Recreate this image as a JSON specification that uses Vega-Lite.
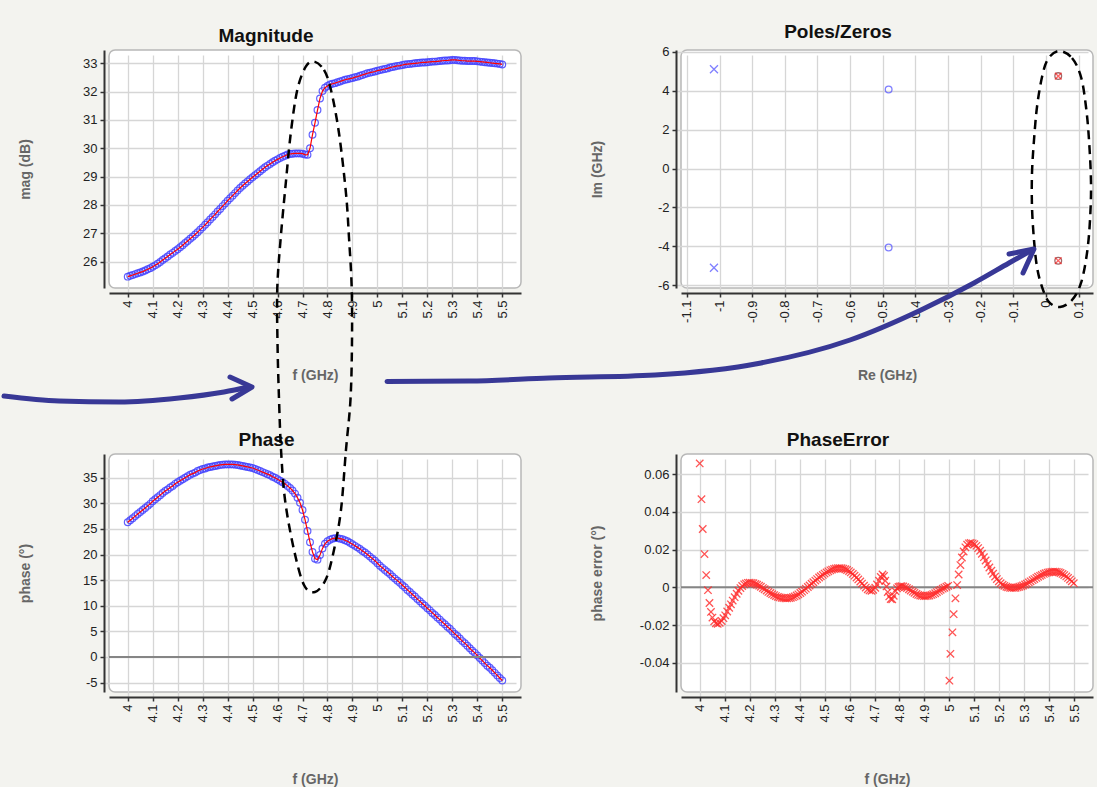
{
  "$schema": "https://vega.github.io/schema/vega-lite/v6.json",
  "background": "#f3f3ef",
  "padding": {"left": 0, "top": 21, "right": 0, "bottom": 0},
  "bounds": "flush",
  "columns": 2,
  "spacing": {"row": 166, "column": 160},
  "config": {
    "font": "Liberation Sans",
    "view": {"stroke": "#b8b8b8", "strokeWidth": 1.5, "cornerRadius": 6, "fill": "#ffffff"},
    "axis": {
      "labelFont": "Liberation Sans", "labelFontSize": 13, "labelColor": "#222222",
      "titleFont": "Liberation Sans", "titleFontSize": 14, "titleFontWeight": "bold", "titleColor": "#666666",
      "domainColor": "#333333", "domainWidth": 2, "tickColor": "#333333", "tickSize": 4, "tickWidth": 1.5,
      "gridColor": "#d6d6d6", "gridWidth": 1.3, "offset": 5, "labelPadding": 3
    },
    "title": {"font": "Liberation Sans", "fontSize": 19, "fontWeight": "bold", "color": "#111111", "baseline": "alphabetic", "offset": 4}
  },
  "datasets": {
    "fp": [
      {"f":4.00,"m":25.47,"p":26.3},{"f":4.01,"m":25.50,"p":26.7},{"f":4.02,"m":25.53,"p":27.1},{"f":4.03,"m":25.56,"p":27.5},{"f":4.04,"m":25.59,"p":27.9},
      {"f":4.05,"m":25.62,"p":28.3},{"f":4.06,"m":25.65,"p":28.7},{"f":4.07,"m":25.69,"p":29.1},{"f":4.08,"m":25.73,"p":29.5},{"f":4.09,"m":25.77,"p":29.9},
      {"f":4.10,"m":25.82,"p":30.4},{"f":4.11,"m":25.87,"p":30.8},{"f":4.12,"m":25.93,"p":31.2},{"f":4.13,"m":25.99,"p":31.6},{"f":4.14,"m":26.06,"p":32.0},
      {"f":4.15,"m":26.12,"p":32.4},{"f":4.16,"m":26.18,"p":32.7},{"f":4.17,"m":26.25,"p":33.1},{"f":4.18,"m":26.31,"p":33.4},{"f":4.19,"m":26.38,"p":33.8},
      {"f":4.20,"m":26.44,"p":34.1},{"f":4.21,"m":26.51,"p":34.4},{"f":4.22,"m":26.58,"p":34.7},{"f":4.23,"m":26.66,"p":35.0},{"f":4.24,"m":26.73,"p":35.3},
      {"f":4.25,"m":26.81,"p":35.6},{"f":4.26,"m":26.88,"p":35.8},{"f":4.27,"m":26.96,"p":36.0},{"f":4.28,"m":27.04,"p":36.3},{"f":4.29,"m":27.13,"p":36.5},
      {"f":4.30,"m":27.21,"p":36.7},{"f":4.31,"m":27.30,"p":36.8},{"f":4.32,"m":27.39,"p":37.0},{"f":4.33,"m":27.49,"p":37.1},{"f":4.34,"m":27.58,"p":37.2},
      {"f":4.35,"m":27.67,"p":37.3},{"f":4.36,"m":27.77,"p":37.4},{"f":4.37,"m":27.86,"p":37.5},{"f":4.38,"m":27.96,"p":37.55},{"f":4.39,"m":28.05,"p":37.6},
      {"f":4.40,"m":28.15,"p":37.6},{"f":4.41,"m":28.24,"p":37.6},{"f":4.42,"m":28.33,"p":37.6},{"f":4.43,"m":28.42,"p":37.55},{"f":4.44,"m":28.51,"p":37.5},
      {"f":4.45,"m":28.60,"p":37.4},{"f":4.46,"m":28.68,"p":37.3},{"f":4.47,"m":28.76,"p":37.2},{"f":4.48,"m":28.83,"p":37.1},{"f":4.49,"m":28.91,"p":37.0},
      {"f":4.50,"m":28.98,"p":36.9},{"f":4.51,"m":29.05,"p":36.7},{"f":4.52,"m":29.12,"p":36.5},{"f":4.53,"m":29.19,"p":36.3},{"f":4.54,"m":29.26,"p":36.1},
      {"f":4.55,"m":29.33,"p":35.9},{"f":4.56,"m":29.39,"p":35.7},{"f":4.57,"m":29.45,"p":35.5},{"f":4.58,"m":29.51,"p":35.2},{"f":4.59,"m":29.56,"p":35.0},
      {"f":4.60,"m":29.61,"p":34.7},{"f":4.61,"m":29.66,"p":34.4},{"f":4.62,"m":29.70,"p":34.1},{"f":4.63,"m":29.74,"p":33.8},{"f":4.64,"m":29.78,"p":33.4},
      {"f":4.65,"m":29.80,"p":33.0},{"f":4.66,"m":29.81,"p":32.5},{"f":4.67,"m":29.82,"p":31.9},{"f":4.68,"m":29.82,"p":31.1},{"f":4.69,"m":29.82,"p":30.1},
      {"f":4.70,"m":29.81,"p":28.7},{"f":4.71,"m":29.78,"p":26.8},{"f":4.72,"m":29.77,"p":24.6},{"f":4.73,"m":30.00,"p":22.4},{"f":4.74,"m":30.48,"p":20.5},
      {"f":4.75,"m":30.90,"p":19.2},{"f":4.76,"m":31.35,"p":19.0},{"f":4.77,"m":31.76,"p":19.9},{"f":4.78,"m":32.02,"p":21.2},{"f":4.79,"m":32.14,"p":22.1},
      {"f":4.80,"m":32.20,"p":22.6},{"f":4.81,"m":32.25,"p":22.9},{"f":4.82,"m":32.28,"p":23.1},{"f":4.83,"m":32.30,"p":23.2},{"f":4.84,"m":32.33,"p":23.2},
      {"f":4.85,"m":32.36,"p":23.1},{"f":4.86,"m":32.39,"p":23.0},{"f":4.87,"m":32.42,"p":22.8},{"f":4.88,"m":32.44,"p":22.6},{"f":4.89,"m":32.46,"p":22.3},
      {"f":4.90,"m":32.48,"p":22.0},{"f":4.91,"m":32.51,"p":21.7},{"f":4.92,"m":32.53,"p":21.4},{"f":4.93,"m":32.56,"p":21.1},{"f":4.94,"m":32.59,"p":20.7},
      {"f":4.95,"m":32.62,"p":20.4},{"f":4.96,"m":32.65,"p":20.0},{"f":4.97,"m":32.67,"p":19.6},{"f":4.98,"m":32.69,"p":19.2},{"f":4.99,"m":32.71,"p":18.8},
      {"f":5.00,"m":32.74,"p":18.3},{"f":5.01,"m":32.76,"p":17.8},{"f":5.02,"m":32.78,"p":17.4},{"f":5.03,"m":32.80,"p":17.0},{"f":5.04,"m":32.82,"p":16.6},
      {"f":5.05,"m":32.85,"p":16.2},{"f":5.06,"m":32.87,"p":15.7},{"f":5.07,"m":32.89,"p":15.3},{"f":5.08,"m":32.91,"p":14.9},{"f":5.09,"m":32.92,"p":14.5},
      {"f":5.10,"m":32.94,"p":14.0},{"f":5.11,"m":32.96,"p":13.6},{"f":5.12,"m":32.97,"p":13.1},{"f":5.13,"m":32.98,"p":12.7},{"f":5.14,"m":32.99,"p":12.2},
      {"f":5.15,"m":33.00,"p":11.8},{"f":5.16,"m":33.01,"p":11.3},{"f":5.17,"m":33.02,"p":10.9},{"f":5.18,"m":33.03,"p":10.4},{"f":5.19,"m":33.03,"p":10.0},
      {"f":5.20,"m":33.04,"p":9.5},{"f":5.21,"m":33.05,"p":9.1},{"f":5.22,"m":33.06,"p":8.6},{"f":5.23,"m":33.06,"p":8.2},{"f":5.24,"m":33.07,"p":7.7},
      {"f":5.25,"m":33.08,"p":7.3},{"f":5.26,"m":33.09,"p":6.8},{"f":5.27,"m":33.10,"p":6.4},{"f":5.28,"m":33.10,"p":5.9},{"f":5.29,"m":33.11,"p":5.5},
      {"f":5.30,"m":33.12,"p":5.0},{"f":5.31,"m":33.12,"p":4.5},{"f":5.32,"m":33.11,"p":4.1},{"f":5.33,"m":33.10,"p":3.6},{"f":5.34,"m":33.09,"p":3.1},
      {"f":5.35,"m":33.09,"p":2.7},{"f":5.36,"m":33.08,"p":2.2},{"f":5.37,"m":33.08,"p":1.7},{"f":5.38,"m":33.08,"p":1.2},{"f":5.39,"m":33.08,"p":0.8},
      {"f":5.40,"m":33.07,"p":0.3},{"f":5.41,"m":33.06,"p":-0.2},{"f":5.42,"m":33.05,"p":-0.7},{"f":5.43,"m":33.04,"p":-1.2},{"f":5.44,"m":33.03,"p":-1.7},
      {"f":5.45,"m":33.02,"p":-2.1},{"f":5.46,"m":33.01,"p":-2.6},{"f":5.47,"m":33.00,"p":-3.1},{"f":5.48,"m":32.99,"p":-3.6},{"f":5.49,"m":32.98,"p":-4.1},
      {"f":5.50,"m":32.96,"p":-4.6}
    ],
    "pe": [
      {"f":4.000,"e":0.0656},{"f":4.007,"e":0.0467},{"f":4.012,"e":0.0309},{"f":4.019,"e":0.0176},{"f":4.026,"e":0.0065},
      {"f":4.033,"e":-0.0015},{"f":4.039,"e":-0.0083},{"f":4.045,"e":-0.0130},{"f":4.051,"e":-0.0160},{"f":4.058,"e":-0.0180},
      {"f":4.065,"e":-0.0190},{"f":4.072,"e":-0.0193},{"f":4.080,"e":-0.0188},{"f":4.088,"e":-0.0178},{"f":4.095,"e":-0.0163},
      {"f":4.102,"e":-0.0148},{"f":4.110,"e":-0.0128},{"f":4.118,"e":-0.0108},{"f":4.125,"e":-0.0090},{"f":4.132,"e":-0.0070},
      {"f":4.140,"e":-0.0052},{"f":4.148,"e":-0.0034},{"f":4.155,"e":-0.0018},{"f":4.163,"e":-0.0004},{"f":4.170,"e":0.0007},
      {"f":4.178,"e":0.0016},{"f":4.185,"e":0.0021},{"f":4.193,"e":0.0024},{"f":4.200,"e":0.0025},{"f":4.208,"e":0.0024},
      {"f":4.215,"e":0.0022},{"f":4.223,"e":0.0018},{"f":4.230,"e":0.0014},{"f":4.238,"e":0.0009},{"f":4.245,"e":0.0003},
      {"f":4.253,"e":-0.0004},{"f":4.260,"e":-0.0010},{"f":4.268,"e":-0.0017},{"f":4.275,"e":-0.0024},{"f":4.283,"e":-0.0030},
      {"f":4.290,"e":-0.0036},{"f":4.298,"e":-0.0041},{"f":4.305,"e":-0.0046},{"f":4.313,"e":-0.0050},{"f":4.320,"e":-0.0053},
      {"f":4.328,"e":-0.0055},{"f":4.335,"e":-0.0057},{"f":4.343,"e":-0.0058},{"f":4.350,"e":-0.0058},{"f":4.358,"e":-0.0057},
      {"f":4.365,"e":-0.0055},{"f":4.373,"e":-0.0052},{"f":4.380,"e":-0.0048},{"f":4.388,"e":-0.0043},{"f":4.395,"e":-0.0037},
      {"f":4.403,"e":-0.0030},{"f":4.410,"e":-0.0023},{"f":4.418,"e":-0.0015},{"f":4.425,"e":-0.0007},{"f":4.433,"e":0.0002},
      {"f":4.440,"e":0.0010},{"f":4.448,"e":0.0019},{"f":4.455,"e":0.0027},{"f":4.463,"e":0.0036},{"f":4.470,"e":0.0044},
      {"f":4.478,"e":0.0052},{"f":4.485,"e":0.0059},{"f":4.493,"e":0.0066},{"f":4.500,"e":0.0073},{"f":4.508,"e":0.0079},
      {"f":4.515,"e":0.0085},{"f":4.523,"e":0.0090},{"f":4.530,"e":0.0094},{"f":4.538,"e":0.0097},{"f":4.545,"e":0.0100},
      {"f":4.553,"e":0.0101},{"f":4.560,"e":0.0102},{"f":4.568,"e":0.0101},{"f":4.575,"e":0.0099},{"f":4.583,"e":0.0096},
      {"f":4.590,"e":0.0092},{"f":4.598,"e":0.0086},{"f":4.605,"e":0.0079},{"f":4.613,"e":0.0071},{"f":4.620,"e":0.0062},
      {"f":4.628,"e":0.0052},{"f":4.635,"e":0.0042},{"f":4.643,"e":0.0031},{"f":4.650,"e":0.0020},{"f":4.658,"e":0.0009},
      {"f":4.665,"e":-0.0001},{"f":4.673,"e":-0.0010},{"f":4.680,"e":-0.0016},{"f":4.688,"e":-0.0018},{"f":4.695,"e":-0.0013},
      {"f":4.703,"e":-0.0002},{"f":4.710,"e":0.0015},{"f":4.718,"e":0.0035},{"f":4.725,"e":0.0055},{"f":4.732,"e":0.0068},
      {"f":4.738,"e":0.0060},{"f":4.743,"e":0.0035},{"f":4.748,"e":0.0005},{"f":4.753,"e":-0.0025},{"f":4.759,"e":-0.0048},
      {"f":4.765,"e":-0.0062},{"f":4.771,"e":-0.0063},{"f":4.777,"e":-0.0045},{"f":4.784,"e":-0.0020},{"f":4.790,"e":-0.0005},
      {"f":4.796,"e":0.0002},{"f":4.802,"e":0.0005},{"f":4.808,"e":0.0006},{"f":4.815,"e":0.0005},{"f":4.823,"e":0.0001},
      {"f":4.830,"e":-0.0004},{"f":4.838,"e":-0.0010},{"f":4.845,"e":-0.0017},{"f":4.853,"e":-0.0023},{"f":4.860,"e":-0.0029},
      {"f":4.868,"e":-0.0035},{"f":4.875,"e":-0.0040},{"f":4.883,"e":-0.0043},{"f":4.890,"e":-0.0045},{"f":4.898,"e":-0.0046},
      {"f":4.905,"e":-0.0046},{"f":4.913,"e":-0.0045},{"f":4.920,"e":-0.0043},{"f":4.928,"e":-0.0040},{"f":4.935,"e":-0.0036},
      {"f":4.943,"e":-0.0031},{"f":4.950,"e":-0.0025},{"f":4.958,"e":-0.0019},{"f":4.965,"e":-0.0013},{"f":4.973,"e":-0.0007},
      {"f":4.980,"e":-0.0002},{"f":4.988,"e":0.0003},{"f":4.995,"e":0.0008},
      {"f":5.000,"e":-0.0494},{"f":5.004,"e":-0.0352},{"f":5.012,"e":-0.0238},{"f":5.017,"e":-0.0142},{"f":5.024,"e":-0.0058},
      {"f":5.031,"e":0.0012},{"f":5.037,"e":0.0068},{"f":5.044,"e":0.0118},{"f":5.050,"e":0.0158},{"f":5.057,"e":0.0190},
      {"f":5.064,"e":0.0212},{"f":5.071,"e":0.0226},{"f":5.078,"e":0.0233},{"f":5.085,"e":0.0235},{"f":5.093,"e":0.0233},
      {"f":5.100,"e":0.0228},{"f":5.108,"e":0.0220},{"f":5.115,"e":0.0208},{"f":5.123,"e":0.0194},{"f":5.130,"e":0.0178},
      {"f":5.138,"e":0.0160},{"f":5.145,"e":0.0142},{"f":5.153,"e":0.0123},{"f":5.160,"e":0.0105},{"f":5.168,"e":0.0088},
      {"f":5.175,"e":0.0072},{"f":5.183,"e":0.0057},{"f":5.190,"e":0.0044},{"f":5.198,"e":0.0032},{"f":5.205,"e":0.0022},
      {"f":5.213,"e":0.0014},{"f":5.220,"e":0.0008},{"f":5.228,"e":0.0003},{"f":5.235,"e":0.0000},{"f":5.243,"e":-0.0002},
      {"f":5.250,"e":-0.0003},{"f":5.258,"e":-0.0003},{"f":5.265,"e":-0.0002},{"f":5.273,"e":0.0000},{"f":5.280,"e":0.0003},
      {"f":5.288,"e":0.0006},{"f":5.295,"e":0.0010},{"f":5.303,"e":0.0015},{"f":5.310,"e":0.0020},{"f":5.318,"e":0.0026},
      {"f":5.325,"e":0.0032},{"f":5.333,"e":0.0038},{"f":5.340,"e":0.0044},{"f":5.348,"e":0.0050},{"f":5.355,"e":0.0056},
      {"f":5.363,"e":0.0061},{"f":5.370,"e":0.0066},{"f":5.378,"e":0.0071},{"f":5.385,"e":0.0075},{"f":5.393,"e":0.0078},
      {"f":5.400,"e":0.0080},{"f":5.408,"e":0.0082},{"f":5.415,"e":0.0083},{"f":5.423,"e":0.0083},{"f":5.430,"e":0.0082},
      {"f":5.438,"e":0.0080},{"f":5.445,"e":0.0076},{"f":5.453,"e":0.0071},{"f":5.460,"e":0.0065},{"f":5.468,"e":0.0058},
      {"f":5.475,"e":0.0050},{"f":5.483,"e":0.0041},{"f":5.490,"e":0.0032},{"f":5.498,"e":0.0022}
    ],
    "pz": [
      {"re":-1.017,"im":5.09,"k":"p"},{"re":-1.017,"im":-5.09,"k":"p"},
      {"re":-0.482,"im":4.05,"k":"z"},{"re":-0.482,"im":-4.05,"k":"z"},
      {"re":0.0375,"im":4.74,"k":"r"},{"re":0.0375,"im":-4.73,"k":"r"}
    ],
    "ann": [
      {"g":"ell","id":"e1","o":1,"f":4.746,"p":116.27},{"g":"ell","id":"e1","o":2,"f":4.786,"p":114.61},
      {"g":"ell","id":"e1","o":3,"f":4.814,"p":110.70},{"g":"ell","id":"e1","o":4,"f":4.846,"p":102.30},
      {"g":"ell","id":"e1","o":5,"f":4.874,"p":90.59},{"g":"ell","id":"e1","o":6,"f":4.886,"p":82.00},
      {"g":"ell","id":"e1","o":7,"f":4.897,"p":72.04},{"g":"ell","id":"e1","o":8,"f":4.898,"p":60.91},
      {"g":"ell","id":"e1","o":9,"f":4.892,"p":50.17},{"g":"ell","id":"e1","o":10,"f":4.874,"p":40.41},
      {"g":"ell","id":"e1","o":11,"f":4.854,"p":28.70},{"g":"ell","id":"e1","o":12,"f":4.826,"p":20.89},
      {"g":"ell","id":"e1","o":13,"f":4.794,"p":15.22},{"g":"ell","id":"e1","o":14,"f":4.750,"p":12.69},
      {"g":"ell","id":"e1","o":15,"f":4.706,"p":14.05},{"g":"ell","id":"e1","o":16,"f":4.666,"p":20.89},
      {"g":"ell","id":"e1","o":17,"f":4.630,"p":30.65},{"g":"ell","id":"e1","o":18,"f":4.614,"p":40.41},
      {"g":"ell","id":"e1","o":19,"f":4.606,"p":50.17},{"g":"ell","id":"e1","o":20,"f":4.600,"p":60.91},
      {"g":"ell","id":"e1","o":21,"f":4.599,"p":72.04},{"g":"ell","id":"e1","o":22,"f":4.613,"p":82.00},
      {"g":"ell","id":"e1","o":23,"f":4.633,"p":92.54},{"g":"ell","id":"e1","o":24,"f":4.653,"p":102.30},
      {"g":"ell","id":"e1","o":25,"f":4.679,"p":110.70},{"g":"ell","id":"e1","o":26,"f":4.713,"p":115.25},
      {"g":"ell","id":"e2","o":1,"f":7.7297,"p":118.32},{"g":"ell","id":"e2","o":2,"f":7.7817,"p":116.95},
      {"g":"ell","id":"e2","o":3,"f":7.8178,"p":113.24},{"g":"ell","id":"e2","o":4,"f":7.8378,"p":107.38},
      {"g":"ell","id":"e2","o":5,"f":7.8498,"p":100.94},{"g":"ell","id":"e2","o":6,"f":7.8578,"p":92.54},
      {"g":"ell","id":"e2","o":7,"f":7.8538,"p":85.32},{"g":"ell","id":"e2","o":8,"f":7.8418,"p":78.87},
      {"g":"ell","id":"e2","o":9,"f":7.8178,"p":73.02},{"g":"ell","id":"e2","o":10,"f":7.7817,"p":69.70},
      {"g":"ell","id":"e2","o":11,"f":7.7337,"p":68.33},{"g":"ell","id":"e2","o":12,"f":7.6896,"p":69.31},
      {"g":"ell","id":"e2","o":13,"f":7.6616,"p":72.24},{"g":"ell","id":"e2","o":14,"f":7.6415,"p":76.14},
      {"g":"ell","id":"e2","o":15,"f":7.6295,"p":81.41},{"g":"ell","id":"e2","o":16,"f":7.6215,"p":87.86},
      {"g":"ell","id":"e2","o":17,"f":7.6215,"p":94.49},{"g":"ell","id":"e2","o":18,"f":7.6295,"p":100.94},
      {"g":"ell","id":"e2","o":19,"f":7.6415,"p":107.38},{"g":"ell","id":"e2","o":20,"f":7.6616,"p":113.24},
      {"g":"ell","id":"e2","o":21,"f":7.6856,"p":116.75},
      {"g":"shaft","id":"a1","o":1,"f":3.5045,"p":50.95},{"g":"shaft","id":"a1","o":2,"f":3.7248,"p":49.98},
      {"g":"shaft","id":"a1","o":3,"f":3.9650,"p":49.78},{"g":"shaft","id":"a1","o":4,"f":4.2053,"p":50.56},
      {"g":"shaft","id":"a1","o":5,"f":4.3856,"p":51.74},{"g":"shaft","id":"a1","o":6,"f":4.4857,"p":52.71},
      {"g":"shaft","id":"a2","o":1,"f":5.0384,"p":53.79},{"g":"shaft","id":"a2","o":2,"f":5.3668,"p":53.88},
      {"g":"shaft","id":"a2","o":3,"f":5.6872,"p":54.47},{"g":"shaft","id":"a2","o":4,"f":6.1117,"p":55.06},
      {"g":"shaft","id":"a2","o":5,"f":6.5362,"p":57.40},{"g":"shaft","id":"a2","o":6,"f":6.8926,"p":61.89},
      {"g":"shaft","id":"a2","o":7,"f":7.1770,"p":67.75},{"g":"shaft","id":"a2","o":8,"f":7.3892,"p":73.02},
      {"g":"shaft","id":"a2","o":9,"f":7.5294,"p":76.92},{"g":"shaft","id":"a2","o":10,"f":7.6215,"p":79.46},
      {"g":"head","id":"h1","o":1,"f":4.4096,"p":54.66},{"g":"head","id":"h1","o":2,"f":4.4977,"p":52.71},
      {"g":"head","id":"h1","o":3,"f":4.4176,"p":50.37},
      {"g":"head","id":"h2","o":1,"f":7.5294,"p":78.68},{"g":"head","id":"h2","o":2,"f":7.6295,"p":79.66},
      {"g":"head","id":"h2","o":3,"f":7.5855,"p":74.97}
    ]
  },
  "concat": [
    {
      "width": 412, "height": 238,
      "title": {"text": "Magnitude", "dx": -49},
      "data": {"name": "fp"},
      "layer": [
        {
          "mark": {"type": "point", "shape": "circle", "filled": false, "size": 45, "strokeWidth": 1.2, "color": "#4545ff", "opacity": 0.85},
          "encoding": {
            "x": {"field": "f", "type": "quantitative", "scale": {"domain": [3.925, 5.575], "nice": false, "zero": false},
                  "axis": {"title": "f (GHz)", "values": [4,4.1,4.2,4.3,4.4,4.5,4.6,4.7,4.8,4.9,5,5.1,5.2,5.3,5.4,5.5], "labelExpr": "format(datum.value, '~g')", "labelAngle": 270, "labelFlush": false, "labelOverlap": false, "titleY": 82, "titleBaseline": "middle"}},
            "y": {"field": "m", "type": "quantitative", "scale": {"domain": [25.07, 33.47], "nice": false, "zero": false},
                  "axis": {"title": "mag (dB)", "values": [26,27,28,29,30,31,32,33], "labelExpr": "format(datum.value, '~g')", "labelFlush": false, "labelOverlap": false, "titleX": -79, "titleBaseline": "middle"}}
          }
        },
        {
          "mark": {"type": "line", "color": "#ff0000", "strokeWidth": 1.2},
          "encoding": {
            "x": {"field": "f", "type": "quantitative", "scale": {"domain": [3.925, 5.575], "nice": false, "zero": false},
                  "axis": {"title": "f (GHz)", "values": [4,4.1,4.2,4.3,4.4,4.5,4.6,4.7,4.8,4.9,5,5.1,5.2,5.3,5.4,5.5], "labelExpr": "format(datum.value, '~g')", "labelAngle": 270, "labelFlush": false, "labelOverlap": false, "titleY": 82, "titleBaseline": "middle"}},
            "y": {"field": "m", "type": "quantitative", "scale": {"domain": [25.07, 33.47], "nice": false, "zero": false},
                  "axis": {"title": "mag (dB)", "values": [26,27,28,29,30,31,32,33], "labelExpr": "format(datum.value, '~g')", "labelFlush": false, "labelOverlap": false, "titleX": -79, "titleBaseline": "middle"}}
          }
        }
      ]
    },
    {
      "width": 412, "height": 238,
      "title": {"text": "Poles/Zeros", "dx": -49},
      "data": {"name": "pz"},
      "encoding": {
        "x": {"field": "re", "type": "quantitative", "scale": {"domain": [-1.118, 0.144], "nice": false, "zero": false},
              "axis": {"title": "Re (GHz)", "values": [-1.1,-1,-0.9,-0.8,-0.7,-0.6,-0.5,-0.4,-0.3,-0.2,-0.1,0,0.1], "labelExpr": "replace(format(datum.value, '~g'), '\u2212', '-')", "labelAngle": 270, "labelFlush": false, "labelOverlap": false, "titleY": 82, "titleBaseline": "middle"}},
        "y": {"field": "im", "type": "quantitative", "scale": {"domain": [-6.13, 6.08], "nice": false, "zero": false},
              "axis": {"title": "Im (GHz)", "values": [-6,-4,-2,0,2,4,6], "labelExpr": "replace(format(datum.value, '~g'), '\u2212', '-')", "labelFlush": false, "labelOverlap": false, "titleX": -79, "titleBaseline": "middle"}}
      },
      "layer": [
        {
          "transform": [{"filter": "datum.k == 'p'"}],
          "mark": {"type": "point", "shape": "M-1,-1L1,1M-1,1L1,-1", "filled": false, "size": 64, "strokeWidth": 1.3, "color": "#4a4aff"}
        },
        {
          "transform": [{"filter": "datum.k == 'z'"}],
          "mark": {"type": "point", "shape": "circle", "filled": false, "size": 45, "strokeWidth": 1.3, "color": "#4a4aff"}
        },
        {
          "transform": [{"filter": "datum.k == 'r'"}],
          "mark": {"type": "point", "shape": "circle", "filled": false, "size": 45, "strokeWidth": 1.3, "color": "#7a2a2a"}
        },
        {
          "transform": [{"filter": "datum.k == 'r'"}],
          "mark": {"type": "point", "shape": "M-1,-1L1,1M-1,1L1,-1", "filled": false, "size": 45, "strokeWidth": 1.3, "color": "#ff2020"}
        },
        {
          "transform": [{"filter": "datum.k == 'r'"}, {"aggregate": [{"op": "count", "as": "n"}]}],
          "mark": {"type": "rule", "color": "#555555", "strokeWidth": 1},
          "encoding": {"x": {"datum": 0, "type": "quantitative"}, "y": null}
        },
        {
          "transform": [{"filter": "datum.k == 'r'"}, {"aggregate": [{"op": "count", "as": "n"}]}],
          "mark": {"type": "rule", "color": "#555555", "strokeWidth": 1},
          "encoding": {"y": {"datum": 0, "type": "quantitative"}, "x": null}
        }
      ]
    },
    {
      "width": 412, "height": 238,
      "data": {"name": "fp"},
      "resolve": {"axis": {"x": "independent"}},
      "layer": [
        {
          "mark": {"type": "point", "shape": "circle", "filled": false, "size": 45, "strokeWidth": 1.2, "color": "#4545ff", "opacity": 0.85},
          "encoding": {
            "x": {"field": "f", "type": "quantitative", "scale": {"domain": [3.925, 5.575], "nice": false, "zero": false},
                  "axis": {"title": "f (GHz)", "values": [4,4.1,4.2,4.3,4.4,4.5,4.6,4.7,4.8,4.9,5,5.1,5.2,5.3,5.4,5.5], "labelExpr": "format(datum.value, '~g')", "labelAngle": 270, "labelFlush": false, "labelOverlap": false, "titleY": 82, "titleBaseline": "middle"}},
            "y": {"field": "p", "type": "quantitative", "scale": {"domain": [-6.84, 39.63], "nice": false, "zero": false},
                  "axis": {"title": "phase (°)", "values": [-5,0,5,10,15,20,25,30,35], "labelExpr": "replace(format(datum.value, '~g'), '\u2212', '-')", "labelFlush": false, "labelOverlap": false, "titleX": -79, "titleBaseline": "middle"}}
          }
        },
        {
          "mark": {"type": "line", "color": "#ff0000", "strokeWidth": 1.2},
          "encoding": {
            "x": {"field": "f", "type": "quantitative", "scale": {"domain": [3.925, 5.575], "nice": false, "zero": false},
                  "axis": {"orient": "top", "title": "Phase", "labels": false, "ticks": false, "domain": false, "grid": false, "offset": 0,
                           "titleFont": "Liberation Sans", "titleFontSize": 19, "titleFontWeight": "bold", "titleColor": "#111111",
                           "titleX": 157, "titleY": -9, "titleBaseline": "alphabetic", "titleAlign": "center", "titleAngle": 0}},
            "y": {"field": "p", "type": "quantitative", "scale": {"domain": [-6.84, 39.63], "nice": false, "zero": false},
                  "axis": {"title": "phase (°)", "values": [-5,0,5,10,15,20,25,30,35], "labelExpr": "replace(format(datum.value, '~g'), '\u2212', '-')", "labelFlush": false, "labelOverlap": false, "titleX": -79, "titleBaseline": "middle"}}
          }
        },
        {
          "data": {"values": [{"z": 0}]},
          "mark": {"type": "rule", "color": "#858585", "strokeWidth": 2},
          "encoding": {
            "y": {"field": "z", "type": "quantitative", "scale": {"domain": [-6.84, 39.63], "nice": false, "zero": false},
                  "axis": {"title": "phase (°)", "values": [-5,0,5,10,15,20,25,30,35], "labelExpr": "replace(format(datum.value, '~g'), '\u2212', '-')", "labelFlush": false, "labelOverlap": false, "titleX": -79, "titleBaseline": "middle"}}
          }
        },
        {
          "data": {"name": "ann"},
          "transform": [{"filter": "datum.g == 'ell'"}],
          "mark": {"type": "line", "interpolate": "cardinal-closed", "color": "#000000", "strokeWidth": 2.5, "strokeDash": [9, 6], "clip": false},
          "encoding": {
            "x": {"field": "f", "type": "quantitative", "scale": {"domain": [3.925, 5.575], "nice": false, "zero": false}, "axis": null},
            "y": {"field": "p", "type": "quantitative", "scale": {"domain": [-6.84, 39.63], "nice": false, "zero": false},
                  "axis": {"title": "phase (°)", "values": [-5,0,5,10,15,20,25,30,35], "labelExpr": "replace(format(datum.value, '~g'), '\u2212', '-')", "labelFlush": false, "labelOverlap": false, "titleX": -79, "titleBaseline": "middle"}},
            "detail": {"field": "id"},
            "order": {"field": "o", "type": "quantitative"}
          }
        },
        {
          "data": {"name": "ann"},
          "transform": [{"filter": "datum.g == 'shaft'"}],
          "mark": {"type": "line", "interpolate": "monotone", "color": "#383896", "strokeWidth": 5, "strokeCap": "round", "strokeJoin": "round", "clip": false},
          "encoding": {
            "x": {"field": "f", "type": "quantitative", "scale": {"domain": [3.925, 5.575], "nice": false, "zero": false}, "axis": null},
            "y": {"field": "p", "type": "quantitative", "scale": {"domain": [-6.84, 39.63], "nice": false, "zero": false},
                  "axis": {"title": "phase (°)", "values": [-5,0,5,10,15,20,25,30,35], "labelExpr": "replace(format(datum.value, '~g'), '\u2212', '-')", "labelFlush": false, "labelOverlap": false, "titleX": -79, "titleBaseline": "middle"}},
            "detail": {"field": "id"},
            "order": {"field": "o", "type": "quantitative"}
          }
        },
        {
          "data": {"name": "ann"},
          "transform": [{"filter": "datum.g == 'head'"}],
          "mark": {"type": "line", "color": "#383896", "strokeWidth": 5, "strokeCap": "round", "strokeJoin": "round", "clip": false},
          "encoding": {
            "x": {"field": "f", "type": "quantitative", "scale": {"domain": [3.925, 5.575], "nice": false, "zero": false}, "axis": null},
            "y": {"field": "p", "type": "quantitative", "scale": {"domain": [-6.84, 39.63], "nice": false, "zero": false},
                  "axis": {"title": "phase (°)", "values": [-5,0,5,10,15,20,25,30,35], "labelExpr": "replace(format(datum.value, '~g'), '\u2212', '-')", "labelFlush": false, "labelOverlap": false, "titleX": -79, "titleBaseline": "middle"}},
            "detail": {"field": "id"},
            "order": {"field": "o", "type": "quantitative"}
          }
        }
      ]
    },
    {
      "width": 412, "height": 238,
      "title": {"text": "PhaseError", "dx": -49},
      "data": {"name": "pe"},
      "layer": [
        {
          "data": {"values": [{"e": 0}]},
          "mark": {"type": "rule", "color": "#858585", "strokeWidth": 2},
          "encoding": {
            "y": {"field": "e", "type": "quantitative", "scale": {"domain": [-0.0554, 0.0706], "nice": false, "zero": false},
                  "axis": {"title": "phase error (°)", "values": [-0.04,-0.02,0,0.02,0.04,0.06], "labelExpr": "replace(format(datum.value, '~g'), '\u2212', '-')", "labelFlush": false, "labelOverlap": false, "titleX": -79, "titleBaseline": "middle"}}
          }
        },
        {
          "mark": {"type": "point", "shape": "M-1,-1L1,1M-1,1L1,-1", "filled": false, "size": 55, "strokeWidth": 1.3, "color": "#ff2a2a", "opacity": 0.8},
          "encoding": {
            "x": {"field": "f", "type": "quantitative", "scale": {"domain": [3.925, 5.575], "nice": false, "zero": false},
                  "axis": {"title": "f (GHz)", "values": [4,4.1,4.2,4.3,4.4,4.5,4.6,4.7,4.8,4.9,5,5.1,5.2,5.3,5.4,5.5], "labelExpr": "format(datum.value, '~g')", "labelAngle": 270, "labelFlush": false, "labelOverlap": false, "titleY": 82, "titleBaseline": "middle"}},
            "y": {"field": "e", "type": "quantitative", "scale": {"domain": [-0.0554, 0.0706], "nice": false, "zero": false},
                  "axis": {"title": "phase error (°)", "values": [-0.04,-0.02,0,0.02,0.04,0.06], "labelExpr": "replace(format(datum.value, '~g'), '\u2212', '-')", "labelFlush": false, "labelOverlap": false, "titleX": -79, "titleBaseline": "middle"}}
          }
        }
      ]
    }
  ]
}
